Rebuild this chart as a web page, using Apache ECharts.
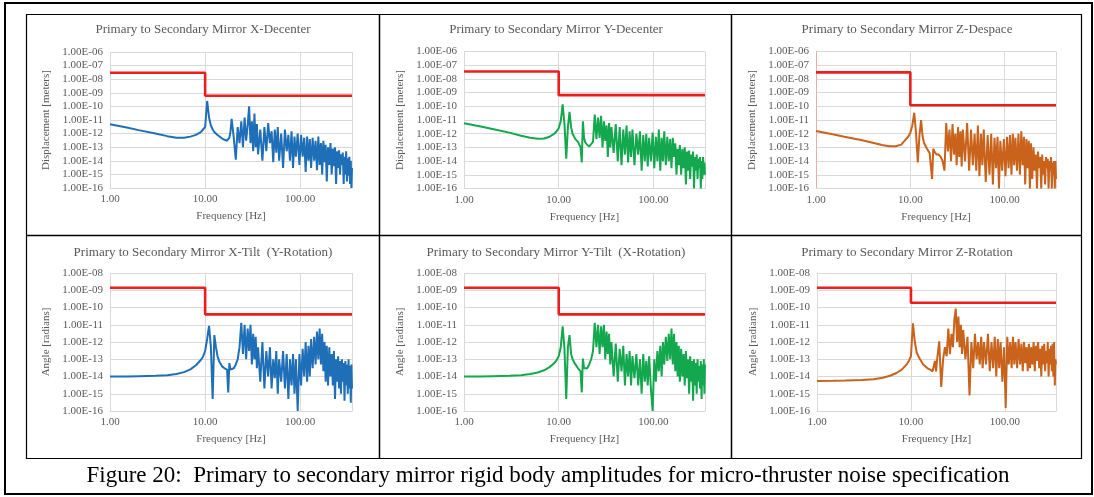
<!DOCTYPE html>
<html>
<head>
<meta charset="utf-8">
<script src="https://cdn.jsdelivr.net/npm/echarts@6/dist/echarts.min.js"></script>
<style>
  html, body { margin: 0; padding: 0; background: #fff; }
  #chart { width: 1094px; height: 497px; }
</style>
</head>
<body>
<div id="chart"></div>
<script>
// 공통 주파수 축 (Hz)
const freqHz = [
  1, 1.5, 2, 3, 4, 5, 6, 7, 8, 9, 9.5, 10,
  10.5, 11, 11.5, 12, 12.5, 13, 13.5, 14, 15, 16, 17, 17.5, 18, 18.5, 19, 20, 21, 22, 23, 24, 25,
  26, 27, 28, 29, 30, 31, 32, 33, 34, 35, 36,
  38, 40, 42, 44, 46, 48, 50, 52, 54, 56, 58, 60,
  63, 66, 69, 72, 75, 78, 81, 84, 87, 90,
  94, 98, 102, 106, 110, 114, 118, 122, 126, 130,
  135, 140, 145, 150, 155, 160, 165, 170, 175, 180, 185, 190,
  196, 202, 208, 214, 220, 226, 232, 238, 244, 250, 256, 262, 268, 274, 280, 286, 292, 298, 304, 310, 316, 322, 328, 334, 340,
  345, 350
];

// 응답 진폭
const xDecenter = [
  4.8e-12, 2.8e-12, 1.8e-12, 1e-12, 6.5e-13, 5e-13, 5e-13, 6e-13, 8e-13, 1.3e-12, 2e-12, 3e-12,
  2.5e-10, 1.5e-11, 4e-12, 2e-12, 1.3e-12, 1e-12, 8e-13, 6e-13, 4.5e-13, 3.5e-13, 3e-13, 3.5e-13, 5e-13, 1.5e-12, 1.2e-11, 5e-13, 1.2e-14, 3e-12, 2e-13, 8e-12, 1e-13,
  1.5e-11, 3e-13, 4e-12, 1e-10, 2e-13, 8e-12, 5e-14, 3e-11, 1e-13, 5e-12, 3e-14,
  2e-12, 1e-14, 3e-12, 5e-14, 6e-12, 2e-13, 1.5e-12, 8e-15, 2e-12, 4e-14, 3e-12, 1e-14,
  1e-12, 3e-15, 2e-12, 5e-14, 8e-13, 1e-14, 1.5e-12, 3e-15, 6e-13, 2e-14,
  1e-12, 5e-15, 8e-13, 2e-14, 5e-13, 1.5e-15, 6e-13, 1e-14, 4e-13, 3e-15,
  5e-13, 1e-14, 3e-13, 2e-15, 6e-13, 5e-15, 2e-13, 1e-15, 3e-13, 8e-15, 1.5e-13, 3e-16,
  1e-13, 5e-15, 2e-13, 1e-15, 8e-14, 4e-15, 1e-13, 2e-16, 5e-14, 3e-15, 6e-14, 1e-15, 3e-14, 5e-15, 4e-14, 2e-16, 2e-14, 1e-15, 5e-14, 3e-16, 1.5e-14, 8e-16, 2e-14, 2e-16, 1e-14,
  1e-16, 3e-15
];
const yDecenter = [
  5.7e-12, 3.3e-12, 2.2e-12, 1.2e-12, 7e-13, 5e-13, 4.2e-13, 4.5e-13, 6e-13, 1e-12, 1.5e-12, 2.5e-12,
  8e-12, 1.4e-10, 5e-12, 1.5e-14, 3e-12, 4e-11, 3e-12, 1e-12, 4e-13, 2.5e-13, 1e-13, 8e-15, 8e-12, 5e-13, 2.5e-13, 1.5e-13, 1.2e-13, 1.5e-13, 2.5e-13, 2.5e-11, 4e-13,
  1.5e-11, 5e-13, 2e-11, 1e-13, 8e-12, 3e-13, 4e-12, 2e-14, 6e-12, 1e-13, 3e-12,
  4e-14, 5e-12, 1e-14, 3e-12, 5e-15, 2e-12, 3e-14, 4e-12, 8e-15, 1.5e-12, 2e-14, 2e-12,
  5e-15, 1e-12, 3e-14, 1.5e-12, 2e-15, 8e-13, 1e-14, 1e-12, 4e-15, 5e-13,
  1e-14, 1.2e-12, 3e-15, 6e-13, 1e-14, 2e-12, 2e-15, 5e-13, 1e-14, 1.5e-12,
  5e-15, 6e-13, 1e-14, 4e-13, 3e-15, 5e-13, 2e-14, 2e-13, 1e-15, 8e-14, 5e-15, 1.5e-13,
  1e-15, 8e-14, 3e-15, 1e-13, 2e-16, 5e-14, 2e-15, 6e-14, 5e-16, 3e-14, 4e-15, 5e-14, 1e-16, 2e-14, 2e-15, 3e-14, 5e-16, 1.5e-14, 3e-15, 2e-14, 1e-16, 1e-14, 5e-16, 2e-14, 1e-15,
  8e-15, 1e-15
];
const zDespace = [
  1.6e-12, 9e-13, 6e-13, 3.5e-13, 2.2e-13, 1.5e-13, 1.2e-13, 1.2e-13, 1.6e-13, 4e-13, 6e-13, 1.2e-12,
  4e-12, 3.4e-11, 1e-12, 8e-15, 8e-13, 1e-11, 6e-13, 2e-13, 8e-14, 4e-14, 5e-16, 8e-14, 5e-14, 4e-14, 3e-14, 3e-14, 2e-14, 1e-14, 2e-15, 6e-12, 5e-14,
  2e-12, 1e-14, 5e-12, 3e-14, 1e-12, 5e-15, 3e-12, 2e-14, 1.5e-12, 4e-15, 2e-12,
  1e-14, 6e-12, 2e-15, 2e-12, 5e-15, 1e-12, 2e-15, 4e-12, 8e-16, 1e-12, 5e-15, 2e-12,
  3e-16, 8e-13, 1e-15, 1e-12, 2e-16, 5e-13, 3e-15, 6e-13, 1e-16, 3e-13,
  2e-15, 4e-13, 8e-16, 6e-13, 3e-15, 8e-13, 1e-15, 1e-12, 5e-15, 5e-13,
  2e-15, 1e-12, 1e-15, 1.5e-12, 5e-15, 6e-13, 2e-16, 4e-13, 3e-15, 3e-13, 1e-16, 2e-13,
  5e-16, 1e-13, 2e-15, 3e-14, 1e-16, 5e-14, 3e-15, 2e-14, 1e-16, 3e-14, 1e-15, 1e-14, 2e-16, 2e-14, 3e-15, 1.5e-14, 1e-16, 1e-14, 2e-15, 2e-14, 1e-16, 8e-15, 1e-15, 1e-14, 1e-16,
  1e-14, 5e-16
];
const xTilt = [
  1e-14, 1e-14, 1.05e-14, 1.1e-14, 1.2e-14, 1.4e-14, 1.8e-14, 2.6e-14, 4.5e-14, 9e-14, 1.4e-13, 3e-13,
  1.5e-12, 8.7e-12, 5e-13, 5e-16, 2.5e-12, 5e-13, 1.5e-13, 8e-14, 4e-14, 3e-14, 2.5e-14, 1.2e-15, 6e-14, 2.5e-14, 2.5e-14, 3e-14, 5e-14, 1e-13, 5e-13, 1.3e-11, 2e-13,
  1e-11, 1e-13, 6e-12, 3e-13, 1e-11, 5e-14, 3e-12, 1e-13, 2e-12, 3e-14, 5e-13,
  5e-15, 1e-12, 2e-15, 3e-13, 1e-14, 5e-13, 2e-15, 1e-13, 8e-15, 3e-13, 1e-15, 1e-13,
  5e-15, 3e-13, 2e-15, 2e-13, 5e-16, 1e-13, 3e-15, 2e-13, 1e-15, 1e-13,
  1e-16, 2e-13, 3e-15, 4e-13, 1e-14, 1e-12, 5e-15, 6e-13, 1e-14, 1.5e-12,
  3e-14, 2e-12, 5e-14, 4e-12, 1e-13, 6e-12, 5e-14, 3e-12, 2e-14, 1e-12, 5e-15, 6e-13,
  3e-15, 5e-13, 1e-14, 2e-13, 3e-15, 3e-13, 5e-16, 1e-13, 5e-15, 1.5e-13, 2e-15, 8e-14, 1e-15, 1e-13, 5e-15, 6e-14, 4e-16, 8e-14, 3e-15, 5e-14, 1e-15, 1e-13, 2e-15, 4e-14, 3e-16,
  5e-14, 2e-15
];
const yTilt = [
  1e-14, 1e-14, 1.05e-14, 1.1e-14, 1.2e-14, 1.4e-14, 1.7e-14, 2.3e-14, 3.5e-14, 6e-14, 9e-14, 1.5e-13,
  5e-13, 8e-12, 4e-13, 5e-16, 5e-13, 2.5e-12, 2e-13, 1e-13, 5e-14, 3e-14, 2e-14, 1.2e-15, 1.1e-13, 3e-14, 2.5e-14, 3e-14, 5e-14, 1e-13, 3e-13, 1.3e-11, 5e-13,
  1e-11, 2e-13, 8e-12, 5e-13, 1e-11, 1e-13, 4e-12, 2e-13, 3e-12, 5e-14, 1e-12,
  1e-14, 8e-13, 5e-15, 4e-13, 2e-14, 6e-13, 3e-15, 2e-13, 1e-14, 3e-13, 3e-15, 1.5e-13,
  8e-15, 2e-13, 3e-15, 1e-13, 1e-15, 2e-13, 5e-15, 8e-14, 3e-15, 1.5e-13,
  2e-15, 1e-16, 1e-13, 5e-15, 3e-13, 2e-14, 6e-13, 1e-14, 1e-12, 5e-14,
  2e-12, 8e-14, 3e-12, 1e-13, 6e-12, 5e-14, 3e-12, 2e-14, 1e-12, 1e-14, 6e-13, 5e-15,
  4e-13, 1e-14, 2e-13, 3e-15, 3e-13, 8e-15, 1e-13, 1e-15, 1.5e-13, 5e-15, 8e-14, 4e-16, 1e-13, 3e-15, 6e-14, 1e-15, 1e-13, 5e-15, 4e-14, 2e-15, 8e-14, 5e-16, 5e-14, 3e-15, 1e-13,
  1e-15, 5e-14
];
const zRotation = [
  5.5e-15, 5.6e-15, 5.8e-15, 6.2e-15, 7e-15, 8.5e-15, 1.1e-14, 1.6e-14, 2.5e-14, 5e-14, 8e-14, 1.5e-13,
  1.2e-11, 1e-12, 2.5e-13, 1.5e-13, 1e-13, 7e-14, 5e-14, 4e-14, 3e-14, 2.5e-14, 2e-14, 1.8e-14, 8e-14, 2e-14, 1e-13, 1.1e-12, 2.5e-15, 1e-13, 5e-13, 1.5e-13, 6e-12,
  2e-13, 3e-12, 5e-13, 2e-11, 8.7e-11, 1e-12, 3e-11, 5e-13, 1e-11, 2e-13, 5e-12,
  1e-13, 2e-12, 8e-16, 1e-12, 3e-14, 3e-12, 1e-13, 1e-12, 5e-14, 2e-12, 3e-14, 1e-12,
  5e-14, 3e-12, 2e-14, 1e-12, 3e-14, 2e-12, 1e-14, 1.5e-12, 3e-14, 1e-12,
  5e-15, 5e-13, 1.5e-16, 2e-12, 5e-14, 1e-12, 3e-14, 2e-12, 5e-14, 1e-12,
  3e-14, 1.5e-12, 5e-14, 8e-13, 2e-14, 1e-12, 6e-14, 5e-13, 2e-14, 8e-13, 3e-14, 5e-13,
  5e-14, 1e-12, 2e-14, 6e-13, 8e-14, 1e-12, 3e-14, 4e-13, 1e-14, 6e-13, 5e-14, 8e-13, 2e-14, 3e-13, 6e-14, 1e-12, 1e-14, 4e-13, 5e-14, 6e-13, 2e-14, 8e-13, 1e-14, 1e-12, 3e-15,
  1e-13, 5e-14
];

// 요구 사양 (10 Hz 기준 상/하한)
const specBreakHz = 10;
const specBelow = [3e-8, 3.5e-8, 3e-8, 1.4e-9, 1.4e-9, 1.4e-9];
const specAbove = [6e-10, 6.5e-10, 1.2e-10, 4e-11, 4e-11, 1.9e-10];

const panelTitles = [
  'Primary to Secondary Mirror X-Decenter',
  'Primary to Secondary Mirror Y-Decenter',
  'Primary to Secondary Mirror Z-Despace',
  'Primary to Secondary Mirror X-Tilt  (Y-Rotation)',
  'Primary to Secondary Mirror Y-Tilt  (X-Rotation)',
  'Primary to Secondary Mirror Z-Rotation'
];
const yAxisNames = ['Displacement [meters]', 'Displacement [meters]', 'Displacement [meters]',
  'Angle [radians]', 'Angle [radians]', 'Angle [radians]'];
const yAxisMax = [1e-6, 1e-6, 1e-6, 1e-8, 1e-8, 1e-8];
const xTickLabels = ['1.00', '10.00', '100.00'];
const freqMin = 1;
const freqMax = 350;
const caption = 'Figure 20:  Primary to secondary mirror rigid body amplitudes for micro-thruster noise specification';

const responses = [xDecenter, yDecenter, zDespace, xTilt, yTilt, zRotation];
const lineColors = ['#1f6fb8', '#14a84e', '#c9621a', '#1f6fb8', '#14a84e', '#c9621a'];

// 패널 위치 (px)
const grids = [
  { left: 110, top: 52, width: 242, height: 136 },
  { left: 464, top: 51.5, width: 241, height: 137 },
  { left: 816, top: 51.5, width: 240, height: 137 },
  { left: 110, top: 273, width: 242, height: 138 },
  { left: 464, top: 273, width: 241, height: 138 },
  { left: 817, top: 273, width: 239, height: 138 }
];
const titlePos = [[203, 30], [556, 30], [907, 30], [203, 253], [556, 253], [907, 253]];

const SERIF = '"Liberation Serif", "Times New Roman", serif';
const GRAY = '#595959';

function expLabel(v) {
  const e = Math.round(Math.log10(v));
  return '1.00E' + (e < 0 ? '-' : '+') + String(Math.abs(e)).padStart(2, '0');
}

const xAxes = grids.map((g, i) => ({
  type: 'log',
  gridIndex: i,
  logBase: 10,
  min: freqMin,
  max: freqMax,
  name: 'Frequency [Hz]',
  nameLocation: 'middle',
  nameGap: 23,
  nameTextStyle: { fontFamily: SERIF, fontSize: 11, color: GRAY },
  axisLine: { show: true, lineStyle: { color: '#d9d9d9', width: 1 } },
  axisTick: { show: false },
  axisLabel: {
    fontFamily: SERIF, fontSize: 11, color: GRAY, margin: 6,
    formatter: v => xTickLabels[Math.round(Math.log10(v))] || ''
  },
  splitLine: { show: true, lineStyle: { color: '#d9d9d9', width: 1 } }
}));

const yAxes = grids.map((g, i) => ({
  type: 'log',
  gridIndex: i,
  logBase: 10,
  min: 1e-16,
  max: yAxisMax[i],
  interval: 1,
  name: yAxisNames[i],
  nameLocation: 'middle',
  nameGap: 58,
  nameTextStyle: { fontFamily: SERIF, fontSize: 11, color: GRAY },
  axisLine: { show: i === 2, lineStyle: { color: '#f3a9a9', width: 1 } },
  axisTick: { show: false },
  axisLabel: { fontFamily: SERIF, fontSize: 11, color: GRAY, margin: 7, formatter: expLabel },
  splitLine: { show: true, lineStyle: { color: '#d9d9d9', width: 1 } }
}));

const series = [];
responses.forEach((vals, i) => {
  series.push({
    type: 'line',
    xAxisIndex: i,
    yAxisIndex: i,
    data: freqHz.map((f, k) => [f, vals[k]]),
    showSymbol: false,
    clip: true,
    lineStyle: { color: lineColors[i], width: 2 },
    z: 2
  });
  series.push({
    type: 'line',
    xAxisIndex: i,
    yAxisIndex: i,
    data: [
      [freqMin, specBelow[i]],
      [specBreakHz, specBelow[i]],
      [specBreakHz, specAbove[i]],
      [freqMax, specAbove[i]]
    ],
    showSymbol: false,
    lineStyle: { color: '#ee1c1c', width: 2.6 },
    z: 3
  });
});

const graphics = [
  { type: 'rect', shape: { x: 5, y: 3, width: 1087, height: 491 }, style: { fill: null, stroke: '#000', lineWidth: 2 } },
  { type: 'rect', shape: { x: 26.5, y: 14.5, width: 1055, height: 444 }, style: { fill: null, stroke: '#000', lineWidth: 1.2 } },
  { type: 'line', shape: { x1: 379.5, y1: 14.5, x2: 379.5, y2: 458.5 }, style: { stroke: '#000', lineWidth: 1.5 } },
  { type: 'line', shape: { x1: 731.5, y1: 14.5, x2: 731.5, y2: 458.5 }, style: { stroke: '#000', lineWidth: 1.5 } },
  { type: 'line', shape: { x1: 26.5, y1: 235.5, x2: 1081.5, y2: 235.5 }, style: { stroke: '#000', lineWidth: 1.5 } },
  {
    type: 'text', x: 548, y: 476,
    style: { text: caption, font: '23px ' + SERIF, fill: '#000', align: 'center', verticalAlign: 'middle' }
  }
];
panelTitles.forEach((t, i) => {
  graphics.push({
    type: 'text', x: titlePos[i][0], y: titlePos[i][1],
    style: { text: t, font: '13px ' + SERIF, fill: GRAY, align: 'center', verticalAlign: 'middle' }
  });
});

const chart = echarts.init(document.getElementById('chart'));
chart.setOption({
  backgroundColor: '#fff',
  animation: false,
  grid: grids.map(g => ({ ...g, containLabel: false })),
  xAxis: xAxes,
  yAxis: yAxes,
  series: series,
  graphic: graphics
});
</script>
</body>
</html>
